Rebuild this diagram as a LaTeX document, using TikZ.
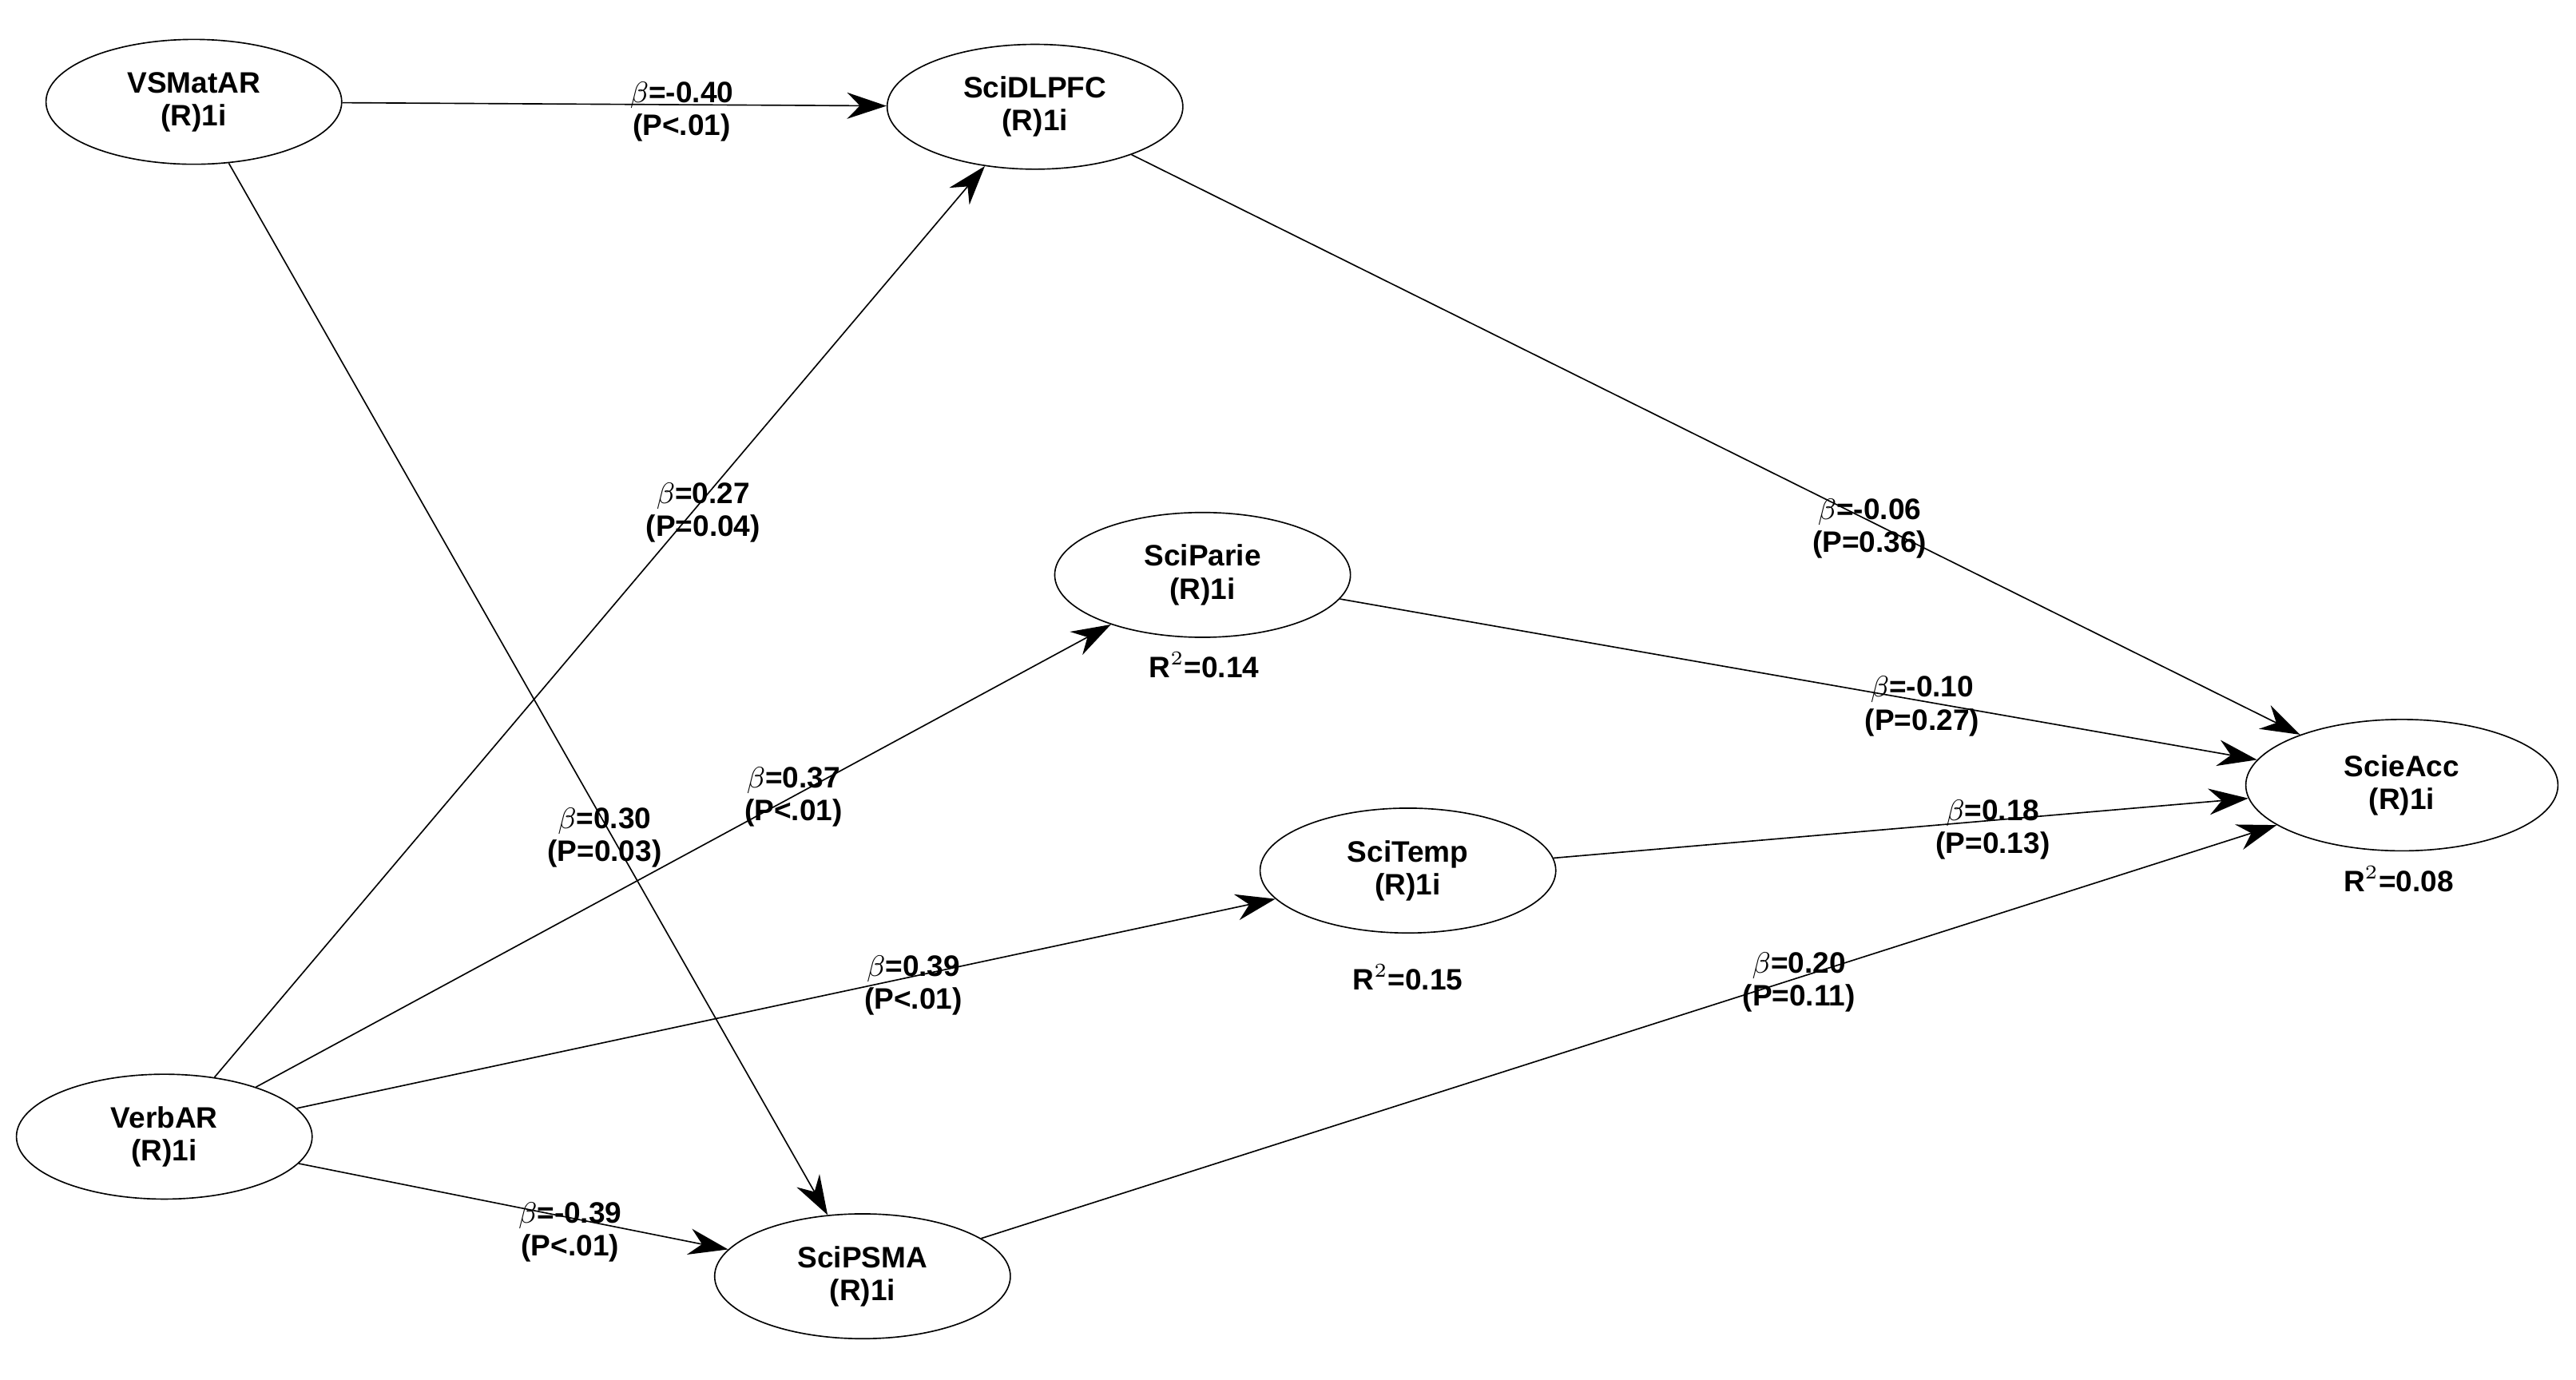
\documentclass[tikz,border=0pt]{standalone}
\usepackage{fontspec}
\setmainfont{Liberation Sans}
\usetikzlibrary{arrows.meta,shapes.geometric}
\begin{document}
\begin{tikzpicture}[x=0.5pt,y=-0.5pt,
  lv/.style={draw,ellipse,minimum width=90pt,minimum height=38pt,inner sep=0pt,font=\bfseries\fontsize{9}{10}\selectfont,align=center},
  ed/.style={-{Stealth[length=12pt,width=8pt]},line width=0.4pt},
  lb/.style={font=\bfseries\fontsize{9}{10}\selectfont,align=center,inner sep=0pt}]
\useasboundingbox (0,0) rectangle (1568,840);
\node[lv] (vs) at (118,62) {VSMatAR\\(R)1i};
\node[lv] (dl) at (630,65) {SciDLPFC\\(R)1i};
\node[lv] (pa) at (732,350) {SciParie\\(R)1i};
\node[lv] (te) at (857,530) {SciTemp\\(R)1i};
\node[lv,minimum width=95pt,minimum height=40pt] (ac) at (1462,478) {ScieAcc\\(R)1i};
\node[lv] (vb) at (100,692) {VerbAR\\(R)1i};
\node[lv] (ps) at (525,777) {SciPSMA\\(R)1i};
\draw[ed] (vs) -- (dl);
\draw[ed] (vb) -- (dl);
\draw[ed] (vs) -- (ps);
\draw[ed] (vb) -- (pa);
\draw[ed] (vb) -- (te);
\draw[ed] (vb) -- (ps);
\draw[ed] (dl) -- (ac);
\draw[ed] (pa) -- (ac);
\draw[ed] (te) -- (ac);
\draw[ed] (ps) -- (ac);
\node[lb] (l1) at (415,68) {$\beta$=-0.40\\(P<.01)};
\node[lb] (l2) at (428,312) {$\beta$=0.27\\(P=0.04)};
\node[lb] (l3) at (368,510) {$\beta$=0.30\\(P=0.03)};
\node[lb] (l4) at (483,485) {$\beta$=0.37\\(P<.01)};
\node[lb] (l5) at (556,600) {$\beta$=0.39\\(P<.01)};
\node[lb] (l6) at (347,750) {$\beta$=-0.39\\(P<.01)};
\node[lb] (l7) at (1138,322) {$\beta$=-0.06\\(P=0.36)};
\node[lb] (l8) at (1170,430) {$\beta$=-0.10\\(P=0.27)};
\node[lb] (l9) at (1213,505) {$\beta$=0.18\\(P=0.13)};
\node[lb] (l10) at (1095,598) {$\beta$=0.20\\(P=0.11)};
\node[lb] (r1) at (733,405) {R$^2$=0.14};
\node[lb] (r2) at (857,595) {R$^2$=0.15};
\node[lb] (r3) at (1460,535) {R$^2$=0.08};
\end{tikzpicture}
\end{document}
